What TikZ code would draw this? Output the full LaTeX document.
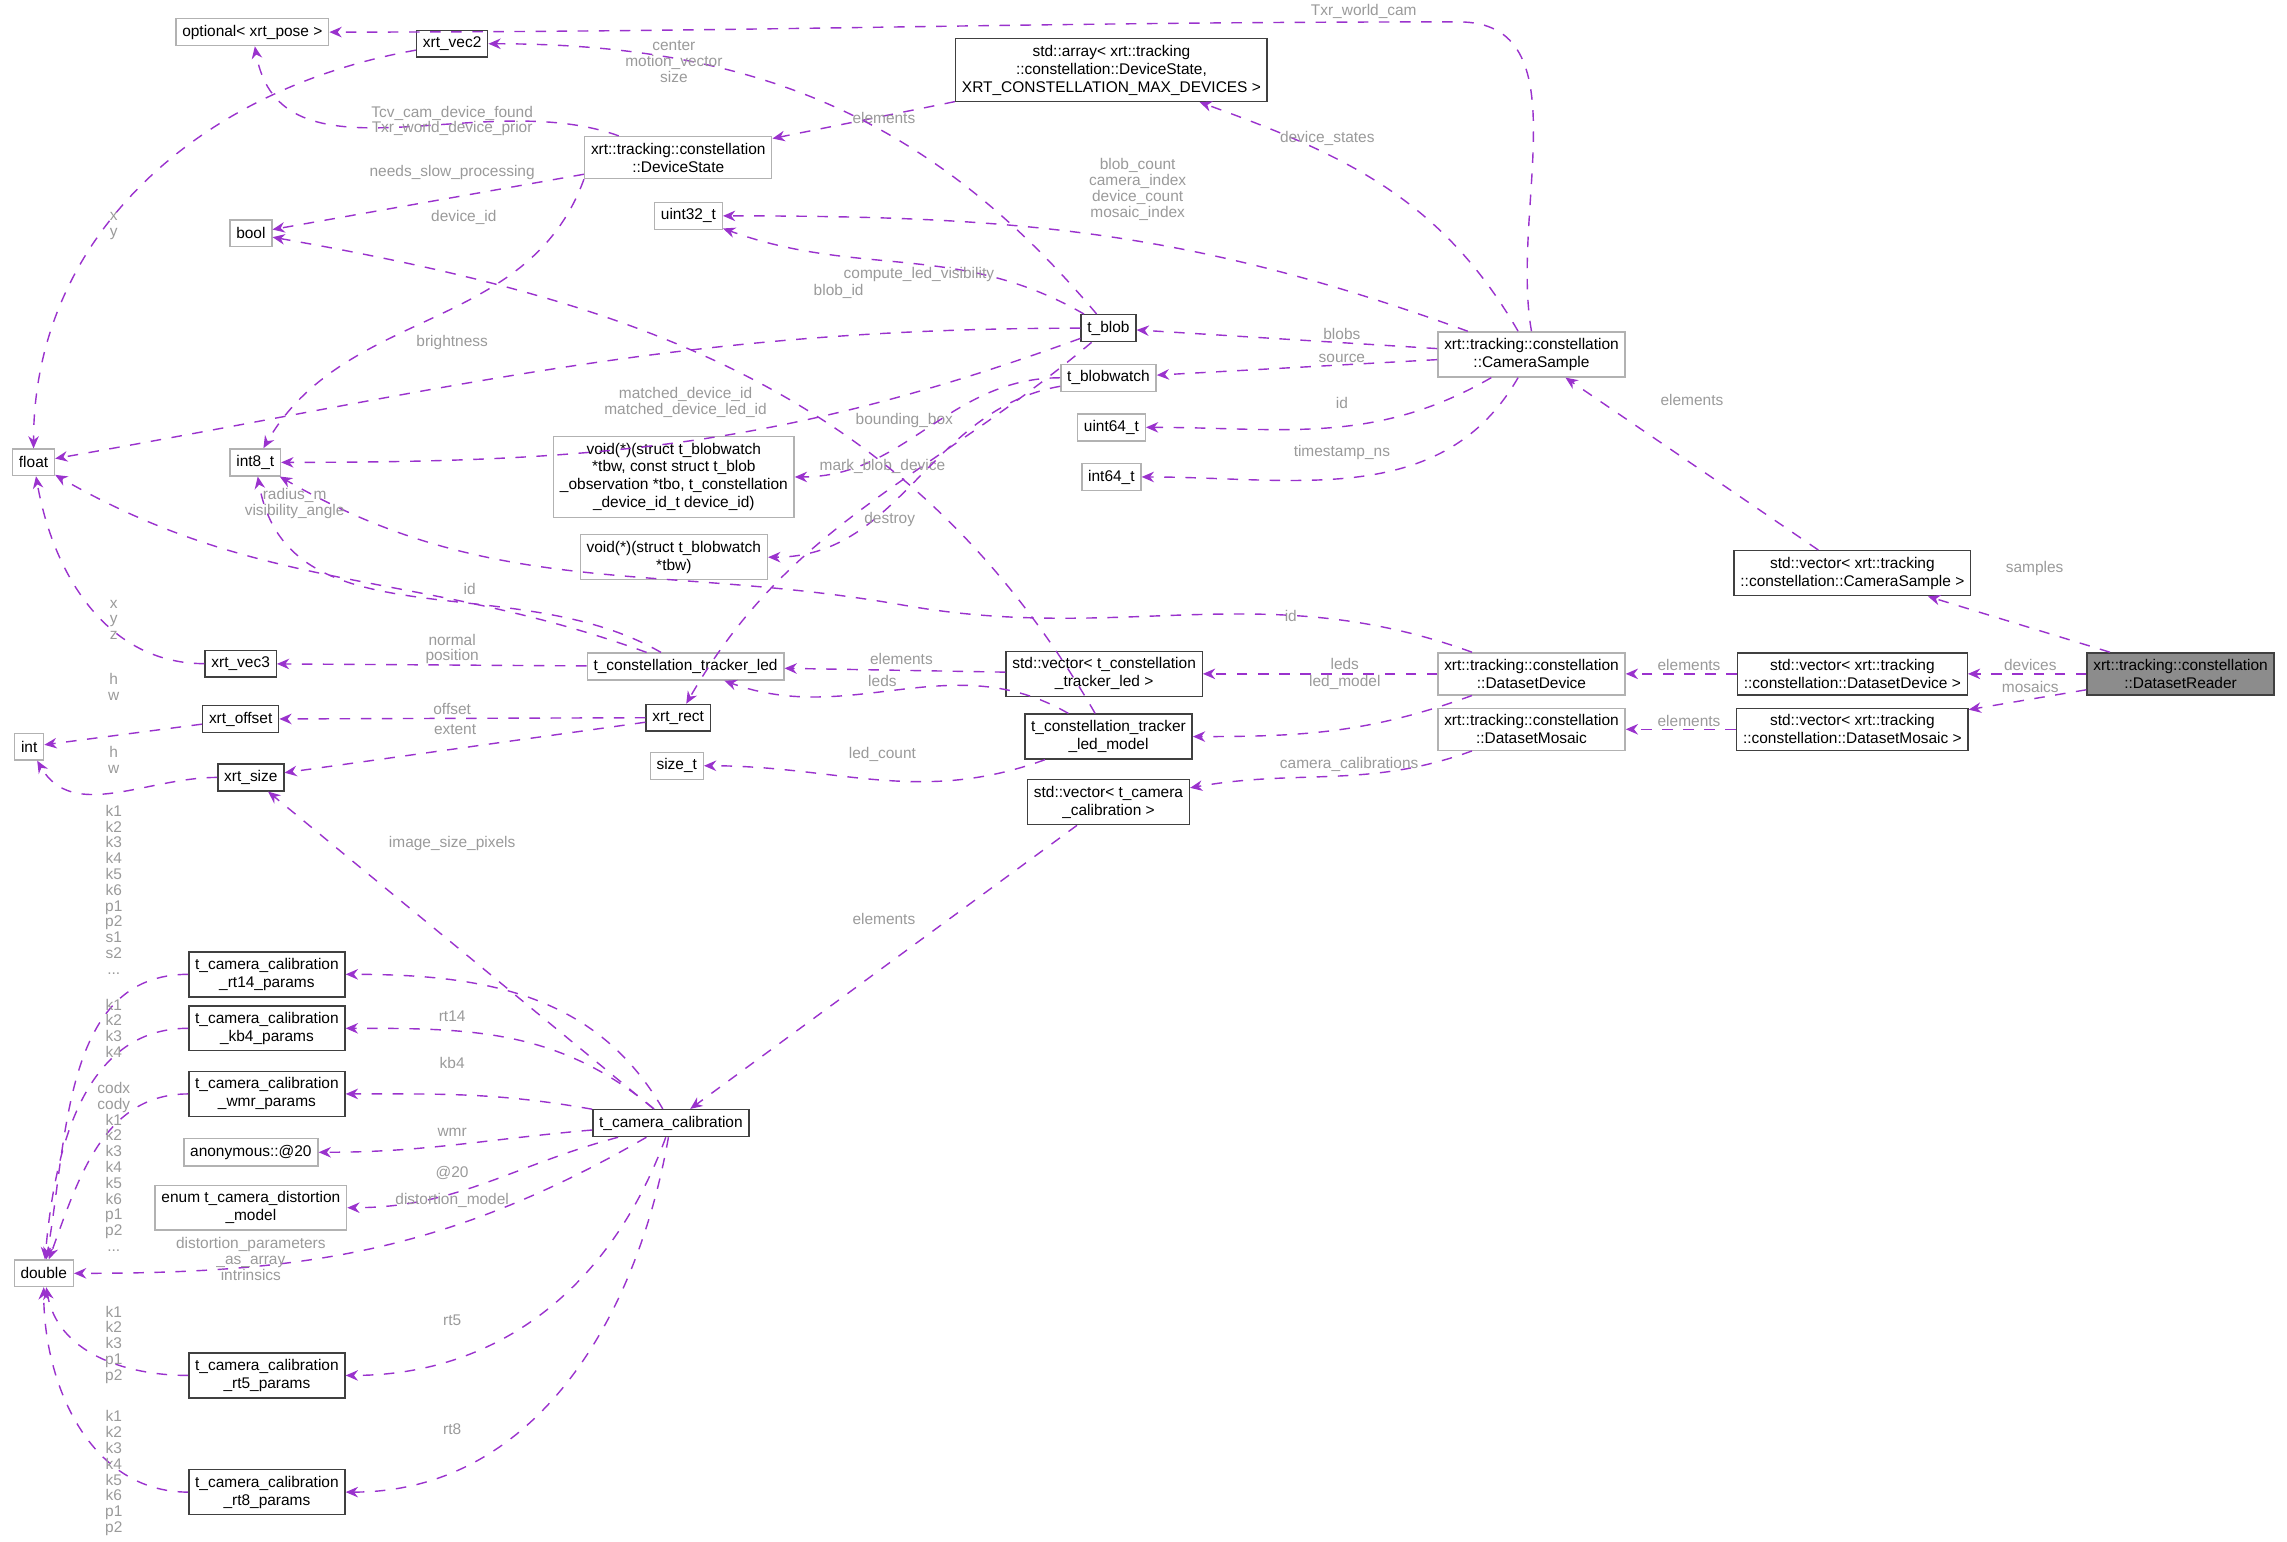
\documentclass[tikz,border=0pt]{standalone}
\usepackage{fontspec}
\setmainfont{Liberation Sans}
\usetikzlibrary{arrows.meta}
\definecolor{edgecol}{HTML}{9A32CD}
\definecolor{lblcol}{HTML}{9A9A9A}
\tikzset{
  box/.style={draw=black!75, fill=white, inner sep=1.8pt, align=center, minimum height=7.5pt, font=\fontsize{4.4}{5.1}\selectfont},
  gbox/.style={box, draw=black!30},
  edge/.style={-{Stealth[length=3.5pt,width=3pt]}, dashed, edgecol, thin},
  lbl/.style={lblcol, align=center, font=\fontsize{4.4}{4.5}\selectfont, inner sep=0pt}
}
\newcommand{\elabel}[3]{\node[lbl] at (#1,#2) {#3};}
\begin{document}
\begin{tikzpicture}[x=0.014585cm,y=-0.014585cm]
  \useasboundingbox (0,0) rectangle (1568,1057);

  % main class and containers
  \node[box, fill=black!45] (reader) at (1495,462) {xrt::tracking::constellation\\::DatasetReader};
  \node[box] (vsample) at (1270,393) {std::vector\textless{} xrt::tracking\\::constellation::CameraSample \textgreater};
  \node[box] (vdevice) at (1270,462) {std::vector\textless{} xrt::tracking\\::constellation::DatasetDevice \textgreater};
  \node[box] (vmosaic) at (1270,500) {std::vector\textless{} xrt::tracking\\::constellation::DatasetMosaic \textgreater};
  \node[gbox] (sample) at (1050,243) {xrt::tracking::constellation\\::CameraSample};
  \node[gbox] (device) at (1050,462) {xrt::tracking::constellation\\::DatasetDevice};
  \node[gbox] (mosaic) at (1050,500) {xrt::tracking::constellation\\::DatasetMosaic};

  % upper part
  \node[box] (states) at (762,48) {std::array\textless{} xrt::tracking\\::constellation::DeviceState,\\ XRT\_CONSTELLATION\_MAX\_DEVICES \textgreater};
  \node[gbox] (dstate) at (465,108) {xrt::tracking::constellation\\::DeviceState};
  \node[gbox] (optional) at (173,22) {optional\textless{} xrt\_pose \textgreater};
  \node[box] (vec2) at (310,30) {xrt\_vec2};
  \node[gbox] (bool) at (172,160) {bool};
  \node[gbox] (uint32) at (472,148) {uint32\_t};
  \node[box] (blob) at (760,225) {t\_blob};
  \node[gbox] (blobwatch) at (760,259) {t\_blobwatch};
  \node[gbox] (uint64) at (762,293) {uint64\_t};
  \node[gbox] (int64) at (762,327) {int64\_t};
  \node[gbox] (float) at (23,317) {float};
  \node[gbox] (int8) at (175,317) {int8\_t};
  \node[gbox] (markfn) at (462,327) {void(*)(struct t\_blobwatch\\ *tbw, const struct t\_blob\\ \_observation *tbo, t\_constellation\\ \_device\_id\_t device\_id)};
  \node[gbox] (destroyfn) at (462,382) {void(*)(struct t\_blobwatch\\ *tbw)};

  % middle part
  \node[box] (vled) at (757,462) {std::vector\textless{} t\_constellation\\ \_tracker\_led \textgreater};
  \node[gbox] (led) at (470,457) {t\_constellation\_tracker\_led};
  \node[box] (vec3) at (165,455) {xrt\_vec3};
  \node[box] (offset) at (165,493) {xrt\_offset};
  \node[box] (rect) at (465,492) {xrt\_rect};
  \node[gbox] (int) at (20,512) {int};
  \node[box] (size) at (172,533) {xrt\_size};
  \node[gbox] (sizet) at (464,525) {size\_t};
  \node[box] (model) at (760,505) {t\_constellation\_tracker\\ \_led\_model};
  \node[box] (vcalib) at (760,550) {std::vector\textless{} t\_camera\\ \_calibration \textgreater};

  % calibration part
  \node[box] (calib) at (460,770) {t\_camera\_calibration};
  \node[box] (rt14) at (183,668) {t\_camera\_calibration\\ \_rt14\_params};
  \node[box] (kb4) at (183,705) {t\_camera\_calibration\\ \_kb4\_params};
  \node[box] (wmr) at (183,750) {t\_camera\_calibration\\ \_wmr\_params};
  \node[gbox] (anon) at (172,790) {anonymous::@20};
  \node[gbox] (distmodel) at (172,828) {enum t\_camera\_distortion\\ \_model};
  \node[gbox] (double) at (30,873) {double};
  \node[box] (rt5) at (183,943) {t\_camera\_calibration\\ \_rt5\_params};
  \node[box] (rt8) at (183,1023) {t\_camera\_calibration\\ \_rt8\_params};

  % edges of the reader
  \draw[edge] (reader) -- (vsample); \elabel{1395}{390}{samples}
  \draw[edge] (reader) -- (vdevice); \elabel{1392}{456}{devices}
  \draw[edge] (reader) -- (vmosaic); \elabel{1392}{471}{mosaics}
  \draw[edge] (vsample) -- (sample); \elabel{1160}{274}{elements}
  \draw[edge] (vdevice) -- (device); \elabel{1158}{456}{elements}
  \draw[edge] (vmosaic) -- (mosaic); \elabel{1158}{494}{elements}

  % camera sample
  \draw[edge] (sample.north) to[out=100,in=0] (1000,15) to[out=180,in=0] (optional.east); \elabel{935}{8}{Txr\_world\_cam}
  \draw[edge] (sample) to[out=120,in=-20] (states); \elabel{910}{95}{device\_states}
  \draw[edge] (sample) to[out=160,in=0] (uint32); \elabel{780}{130}{blob\_count\\camera\_index\\device\_count\\mosaic\_index}
  \draw[edge] (sample) -- (blob); \elabel{920}{229}{blobs}
  \draw[edge] (sample) -- (blobwatch); \elabel{920}{246}{source}
  \draw[edge] (sample) to[out=-150,in=0] (uint64); \elabel{920}{276}{id}
  \draw[edge] (sample) to[out=-120,in=0] (int64); \elabel{920}{310}{timestamp\_ns}
  \draw[edge] (states) -- (dstate); \elabel{606}{81}{elements}
  \draw[edge] (dstate) to[out=160,in=-80] (optional); \elabel{310}{83}{Tcv\_cam\_device\_found\\Txr\_world\_device\_prior}
  \draw[edge] (dstate) -- (bool); \elabel{310}{118}{needs\_slow\_processing}
  \draw[edge] (dstate.south west) to[out=-110,in=60] (int8); \elabel{318}{149}{device\_id}

  % blob and blobwatch
  \draw[edge] (blob) to[out=130,in=0] (vec2); \elabel{462}{42}{center\\motion\_vector\\size}
  \draw[edge] (blob) to[out=150,in=-20] (uint32); \elabel{575}{200}{blob\_id}
  \draw[edge] (blob) to[out=180,in=10] (float); \elabel{310}{235}{brightness}
  \draw[edge] (blob) to[out=200,in=0] (int8); \elabel{470}{276}{matched\_device\_id\\matched\_device\_led\_id}
  \draw[edge] (blob) to[out=220,in=60] (rect); \elabel{620}{288}{bounding\_box}
  \draw[edge] (blobwatch) to[out=180,in=0] (markfn); \elabel{605}{320}{mark\_blob\_device}
  \draw[edge] (blobwatch) to[out=190,in=0] (destroyfn); \elabel{610}{356}{destroy}
  \draw[edge] (vec2) to[out=190,in=90] (float); \elabel{78}{155}{x\\y}

  % dataset device
  \draw[edge] (device) to[out=160,in=-10] (620,415) to[out=170,in=-30] (int8); \elabel{885}{422}{id}
  \draw[edge] (device) -- (vled); \elabel{922}{455}{leds}
  \draw[edge] (device) to[out=200,in=0] (model); \elabel{922}{468}{led\_model}
  \draw[edge] (vled) -- (led); \elabel{618}{452}{elements}
  \draw[edge] (model) to[out=150,in=-20] (led); \elabel{605}{467}{leds}
  \draw[edge] (model) to[out=120,in=-10] (bool); \elabel{630}{188}{compute\_led\_visibility}
  \draw[edge] (model) to[out=200,in=0] (sizet); \elabel{605}{517}{led\_count}
  \draw[edge] (led) to[out=160,in=-30] (float); \elabel{202}{345}{radius\_m\\visibility\_angle}
  \draw[edge] (led) to[out=150,in=-80] (int8); \elabel{322}{404}{id}
  \draw[edge] (led) -- (vec3); \elabel{310}{445}{normal\\position}
  \draw[edge] (vec3) to[out=180,in=-80] (float); \elabel{78}{425}{x\\y\\z}
  \draw[edge] (rect) -- (offset); \elabel{310}{486}{offset}
  \draw[edge] (rect) -- (size); \elabel{312}{500}{extent}
  \draw[edge] (offset) -- (int); \elabel{78}{471}{h\\w}
  \draw[edge] (size) to[out=180,in=-60] (int); \elabel{78}{521}{h\\w}
  \draw[edge] (mosaic) to[out=200,in=10] (vcalib); \elabel{925}{524}{camera\_calibrations}
  \draw[edge] (vcalib) -- (calib); \elabel{606}{630}{elements}

  % camera calibration
  \draw[edge] (calib) -- (size); \elabel{310}{578}{image\_size\_pixels}
  \draw[edge] (calib) to[out=120,in=0] (rt14); \elabel{310}{697}{rt14}
  \draw[edge] (calib) to[out=140,in=0] (kb4); \elabel{310}{729}{kb4}
  \draw[edge] (calib) to[out=170,in=0] (wmr); \elabel{310}{776}{wmr}
  \draw[edge] (calib) to[out=185,in=0] (anon); \elabel{310}{804}{@20}
  \draw[edge] (calib) to[out=195,in=0] (distmodel); \elabel{310}{823}{distortion\_model}
  \draw[edge] (calib) to[out=210,in=0] (double); \elabel{172}{863}{distortion\_parameters\\\_as\_array\\intrinsics}
  \draw[edge] (calib) to[out=-110,in=0] (rt5); \elabel{310}{905}{rt5}
  \draw[edge] (calib) to[out=-100,in=0] (rt8); \elabel{310}{980}{rt8}
  \draw[edge] (rt14) to[out=180,in=80] (double); \elabel{78}{610}{k1\\k2\\k3\\k4\\k5\\k6\\p1\\p2\\s1\\s2\\...}
  \draw[edge] (kb4) to[out=180,in=85] (double); \elabel{78}{705}{k1\\k2\\k3\\k4}
  \draw[edge] (wmr) to[out=180,in=70] (double); \elabel{78}{800}{codx\\cody\\k1\\k2\\k3\\k4\\k5\\k6\\p1\\p2\\...}
  \draw[edge] (rt5) to[out=180,in=-80] (double); \elabel{78}{922}{k1\\k2\\k3\\p1\\p2}
  \draw[edge] (rt8) to[out=180,in=-90] (double); \elabel{78}{1010}{k1\\k2\\k3\\k4\\k5\\k6\\p1\\p2}
\end{tikzpicture}
\end{document}
